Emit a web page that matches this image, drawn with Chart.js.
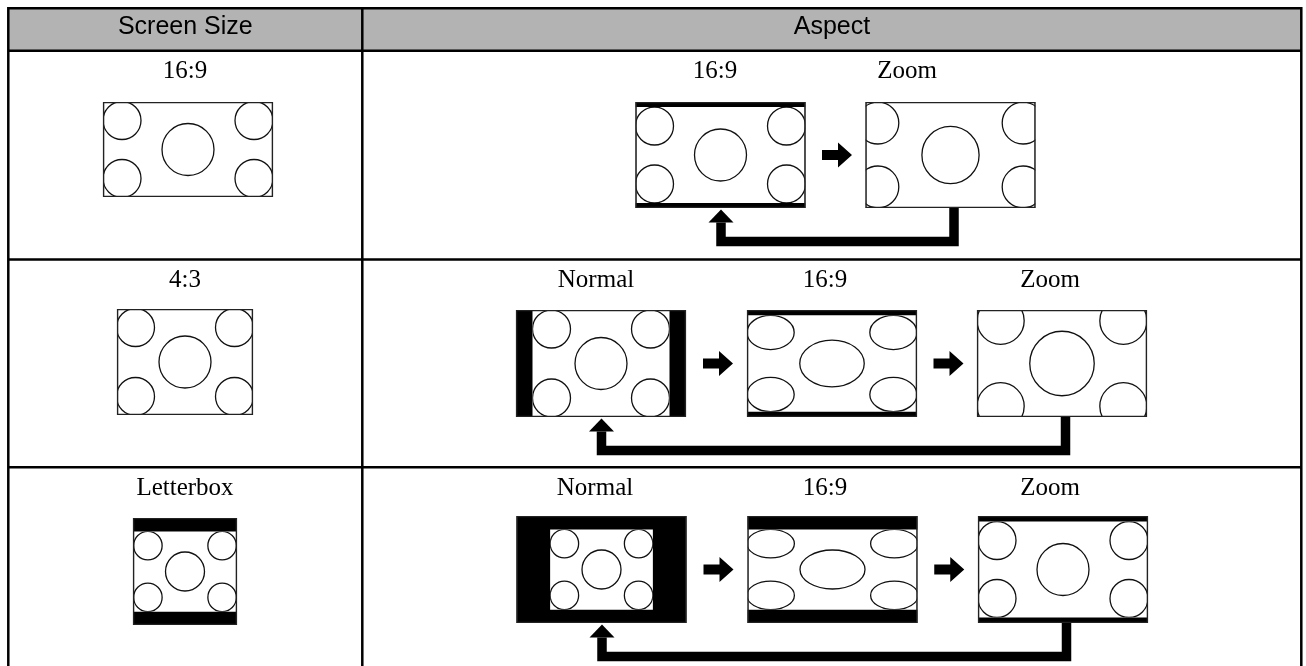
<!DOCTYPE html>
<html>
<head>
<meta charset="utf-8">
<script src="https://cdn.jsdelivr.net/npm/chart.js@4.4.1/dist/chart.umd.min.js"></script>
<style>
  html, body { margin: 0; padding: 0; background: #fff; }
  canvas { display: block; }
</style>
</head>
<body>
<canvas id="diagram" width="1306" height="666"></canvas>
<script>
// table texts
var headerLabels = ['Screen Size', 'Aspect'];
var sourceLabels = ['16:9', '4:3', 'Letterbox'];
var aspectLabels = [
  ['16:9', 'Zoom'],
  ['Normal', '16:9', 'Zoom'],
  ['Normal', '16:9', 'Zoom']
];
// picture shown in each screen: [source image, stretch x, stretch y]
var sourcePictures = [['wide', 1, 1], ['std', 1, 1], ['std', 0.75, 0.75]];
var aspectPictures = [
  [['wide', 1, 1], ['wide', 1.1, 1.1]],
  [['std', 1, 1], ['std', 1.24, 0.9], ['std', 1.24, 1.24]],
  [['std', 0.75, 0.75], ['std', 1.25, 0.75], ['wide', 1, 1]]
];

// --- layout (page units, mapped through the chart scales) ---
var W = 1306, H = 666;
var tableLeft = 8.3, tableRight = 1301.3, colSplit = 362.3, tableTop = 8.3, headBottom = 50.7;
var rowTops = [50.7, 259.5, 467.3];
var images = { wide: { w: 170, h: 96, rc: 19, rm: 26 }, std: { w: 137, h: 107, rc: 19, rm: 26 } };
var sourceFrames = [[188, 149.5, 170, 95], [185, 362, 136, 106], [185, 571.5, 104, 107]];
var aspectFrameX = [[720.5, 950.5], [601, 832, 1062], [601.5, 832.5, 1063]];
var aspectFrameY = [155, 363.5, 569.5];
var aspectFrameH = [106, 107, 107];
var labelX = [[715, 907], [596, 825, 1050], [595, 825, 1050]];
var labelY = [77.5, 287, 494.5];

var diagramPlugin = {
  id: 'diagram',
  afterDraw: function(chart) {
    var ctx = chart.ctx;
    var xs = chart.scales.x, ys = chart.scales.y;
    function px(v) { return xs.getPixelForValue(v); }
    function py(v) { return ys.getPixelForValue(v); }
    function rect(x, y, w, h) { ctx.rect(px(x), py(y), px(x + w) - px(x), py(y + h) - py(y)); }

    ctx.save();
    // header band
    ctx.fillStyle = '#b3b3b3';
    ctx.beginPath(); rect(tableLeft, tableTop, tableRight - tableLeft, headBottom - tableTop); ctx.fill();

    ctx.fillStyle = '#000';
    ctx.font = '25px "Liberation Sans", Arial, sans-serif';
    ctx.textAlign = 'center';
    ctx.textBaseline = 'alphabetic';
    ctx.fillText(headerLabels[0], px((tableLeft + colSplit) / 2), py(33.6));
    ctx.fillText(headerLabels[1], px(832), py(33.6));

    // grid lines
    ctx.strokeStyle = '#000';
    ctx.lineWidth = 2.5;
    ctx.beginPath();
    [tableTop, headBottom, rowTops[1], rowTops[2]].forEach(function(y) {
      ctx.moveTo(px(tableLeft - 1.2), py(y)); ctx.lineTo(px(tableRight + 1.2), py(y));
    });
    [tableLeft, colSplit, tableRight].forEach(function(x) {
      ctx.moveTo(px(x), py(tableTop - 1.2)); ctx.lineTo(px(x), py(H));
    });
    ctx.stroke();

    function screen(cx, cy, fw, fh, pic) {
      var img = images[pic[0]], sx = pic[1], sy = pic[2];
      var iw = img.w * sx, ih = img.h * sy;
      var fx = cx - fw / 2, fy = cy - fh / 2;
      var ix = cx - iw / 2, iy = cy - ih / 2;
      // black bars where the picture does not fill the frame
      ctx.fillStyle = '#000';
      ctx.beginPath(); rect(fx, fy, fw, fh); ctx.fill();
      ctx.save();
      ctx.beginPath(); rect(fx, fy, fw, fh); ctx.clip();
      ctx.fillStyle = '#fff';
      ctx.beginPath(); rect(ix, iy, iw, ih); ctx.fill();
      ctx.beginPath(); rect(Math.max(ix, fx), Math.max(iy, fy), Math.min(iw, fw), Math.min(ih, fh)); ctx.clip();
      ctx.strokeStyle = '#111';
      ctx.lineWidth = 1.3;
      var rcx = img.rc * sx, rcy = img.rc * sy, rmx = img.rm * sx, rmy = img.rm * sy;
      var pts = [
        [ix + rcx, iy + rcy, rcx, rcy], [ix + iw - rcx, iy + rcy, rcx, rcy],
        [ix + rcx, iy + ih - rcy, rcx, rcy], [ix + iw - rcx, iy + ih - rcy, rcx, rcy],
        [cx, cy, rmx, rmy]
      ];
      pts.forEach(function(p) {
        ctx.beginPath();
        ctx.ellipse(px(p[0]), py(p[1]), px(p[0] + p[2]) - px(p[0]), py(p[1] + p[3]) - py(p[1]), 0, 0, Math.PI * 2);
        ctx.stroke();
      });
      ctx.restore();
      ctx.strokeStyle = '#222';
      ctx.lineWidth = 1.4;
      ctx.beginPath(); rect(fx + 0.6, fy + 0.6, fw - 1.2, fh - 1.2); ctx.stroke();
    }

    function rightArrow(cx, cy) {
      var x0 = cx - 15;
      ctx.fillStyle = '#000';
      ctx.beginPath();
      ctx.moveTo(px(x0), py(cy - 5)); ctx.lineTo(px(x0 + 16), py(cy - 5));
      ctx.lineTo(px(x0 + 16), py(cy - 12.5)); ctx.lineTo(px(x0 + 30), py(cy));
      ctx.lineTo(px(x0 + 16), py(cy + 12.5)); ctx.lineTo(px(x0 + 16), py(cy + 5));
      ctx.lineTo(px(x0), py(cy + 5)); ctx.closePath(); ctx.fill();
    }

    function returnArrow(xl, xr, bottom) {
      var t = 9.5, hy = bottom + 33.5, tip = bottom + 1.5, hb = tip + 13;
      ctx.fillStyle = '#000';
      ctx.beginPath();
      rect(xr - t / 2, bottom, t, hy + t / 2 - bottom);
      rect(xl - t / 2, hy - t / 2, xr - xl + t / 2, t);
      rect(xl - t / 2, hb, t, hy - hb);
      ctx.fill();
      ctx.beginPath();
      ctx.moveTo(px(xl), py(tip)); ctx.lineTo(px(xl + 12.5), py(hb));
      ctx.lineTo(px(xl - 12.5), py(hb)); ctx.closePath(); ctx.fill();
    }

    ctx.font = '25px "Liberation Serif", "Times New Roman", serif';
    for (var r = 0; r < 3; r++) {
      ctx.fillStyle = '#000';
      ctx.fillText(sourceLabels[r], px(185), py(labelY[r]));
      var sf = sourceFrames[r];
      screen(sf[0], sf[1], sf[2], sf[3], sourcePictures[r]);

      var xsRow = aspectFrameX[r], cy = aspectFrameY[r], fh = aspectFrameH[r];
      for (var c = 0; c < xsRow.length; c++) {
        ctx.fillStyle = '#000';
        ctx.fillText(aspectLabels[r][c], px(labelX[r][c]), py(labelY[r]));
        screen(xsRow[c], cy, 170, fh, aspectPictures[r][c]);
        if (c > 0) rightArrow((xsRow[c - 1] + xsRow[c]) / 2 + 1.5, cy);
      }
      returnArrow(xsRow[0] + 0.5, xsRow[xsRow.length - 1] + 3.5, cy + fh / 2);
    }
    ctx.restore();
  }
};

new Chart(document.getElementById('diagram').getContext('2d'), {
  type: 'scatter',
  data: { datasets: [{ data: [], pointRadius: 0 }] },
  options: {
    responsive: false,
    devicePixelRatio: 1,
    animation: false,
    layout: { padding: 0 },
    plugins: { legend: { display: false }, tooltip: { enabled: false } },
    scales: {
      x: { type: 'linear', min: 0, max: W, display: false },
      y: { type: 'linear', min: 0, max: H, reverse: true, display: false }
    }
  },
  plugins: [diagramPlugin]
});
</script>
</body>
</html>
